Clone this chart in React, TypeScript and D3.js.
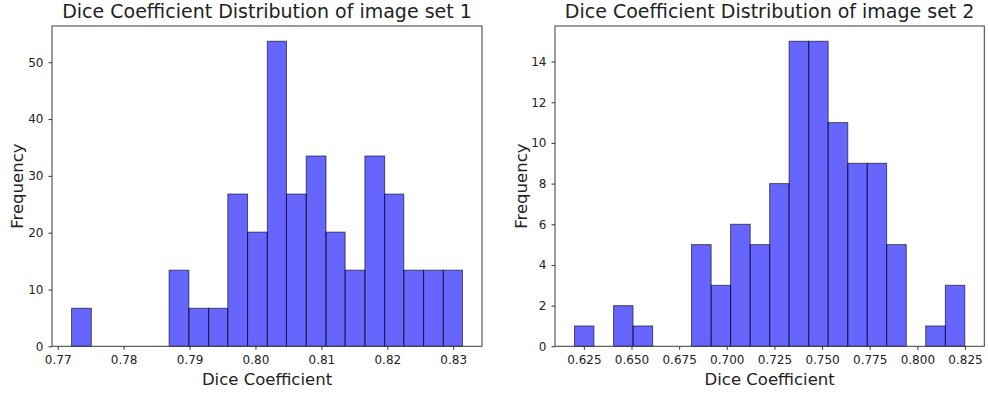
import React, { useEffect, useRef } from 'react';
import * as d3 from 'd3';

// image set 1: bin edges (21) and bar heights (20)
const set1Edges = [
  0.7721, 0.7751, 0.7780, 0.7810, 0.7840, 0.7869, 0.7899, 0.7929, 0.7958, 0.7988,
  0.8018, 0.8047, 0.8077, 0.8107, 0.8136, 0.8166, 0.8196, 0.8225, 0.8255, 0.8285, 0.8314,
];
const set1Freq = [
  6.7, 0, 0, 0, 0, 13.4, 6.7, 6.7, 26.8, 20.1,
  53.7, 26.8, 33.5, 20.1, 13.4, 33.5, 26.8, 13.4, 13.4, 13.4,
];
const set1XTicks = [0.77, 0.78, 0.79, 0.8, 0.81, 0.82, 0.83];
const set1YTicks = [0, 10, 20, 30, 40, 50];

// image set 2
const set2Edges = [
  0.6201, 0.6303, 0.6406, 0.6508, 0.6611, 0.6713, 0.6815, 0.6918, 0.7020, 0.7123,
  0.7225, 0.7327, 0.7430, 0.7532, 0.7635, 0.7737, 0.7839, 0.7942, 0.8044, 0.8147, 0.8249,
];
const set2Freq = [1, 0, 2, 1, 0, 0, 5, 3, 6, 5, 8, 15, 15, 11, 9, 9, 5, 0, 1, 3];
const set2XTicks = [0.625, 0.65, 0.675, 0.7, 0.725, 0.75, 0.775, 0.8, 0.825];
const set2YTicks = [0, 2, 4, 6, 8, 10, 12, 14];

const FONT = '"DejaVu Sans", sans-serif';

function drawPanel(svg, opts) {
  const { left, right, top, bottom, edges, freq, xTicks, yTicks, xFmt, title, ylabelX } = opts;

  // matplotlib-ish 5% margins on x, 5% headroom on y
  const lo = edges[0], hi = edges[edges.length - 1];
  const pad = (hi - lo) * 0.05;
  const x = d3.scaleLinear().domain([lo - pad, hi + pad]).range([left, right]);
  const y = d3.scaleLinear().domain([0, d3.max(freq) * 1.05]).range([bottom, top]);

  const g = svg.append('g');

  const bins = freq.map((f, i) => ({ x0: edges[i], x1: edges[i + 1], f })).filter(d => d.f > 0);

  g.selectAll('rect.bar')
    .data(bins)
    .enter().append('rect')
      .attr('class', 'bar')
      .attr('x', d => x(d.x0))
      .attr('y', d => y(d.f))
      .attr('width', d => x(d.x1) - x(d.x0))
      .attr('height', d => y(0) - y(d.f))
      .attr('fill', 'blue')
      .attr('fill-opacity', 0.6)
      .attr('stroke', 'black')
      .attr('stroke-opacity', 0.6)
      .attr('stroke-width', 1);

  // axes
  const xAxis = g.append('g')
    .attr('transform', `translate(0,${bottom})`)
    .call(d3.axisBottom(x).tickValues(xTicks).tickFormat(xFmt).tickSize(3.5).tickSizeOuter(0).tickPadding(5.5));
  const yAxis = g.append('g')
    .attr('transform', `translate(${left},0)`)
    .call(d3.axisLeft(y).tickValues(yTicks).tickFormat(d3.format('d')).tickSize(3.5).tickSizeOuter(0).tickPadding(5));

  [xAxis, yAxis].forEach(a => {
    a.select('.domain').remove();
    a.attr('font-family', FONT).attr('font-size', 12);
    a.selectAll('line').attr('stroke', '#333').attr('stroke-width', 1);
    a.selectAll('text').attr('fill', '#222');
  });

  // frame
  g.append('rect')
    .attr('x', left).attr('y', top)
    .attr('width', right - left).attr('height', bottom - top)
    .attr('fill', 'none').attr('stroke', '#3a3a3a').attr('stroke-width', 1);

  g.append('text')
    .attr('x', (left + right) / 2).attr('y', 18.3)
    .attr('text-anchor', 'middle')
    .attr('font-family', FONT).attr('font-size', 19).attr('fill', '#222')
    .text(title);

  g.append('text')
    .attr('x', (left + right) / 2).attr('y', 385)
    .attr('text-anchor', 'middle')
    .attr('font-family', FONT).attr('font-size', 16.5).attr('fill', '#222')
    .text('Dice Coefficient');

  g.append('text')
    .attr('transform', `translate(${ylabelX},${(top + bottom) / 2}) rotate(-90)`)
    .attr('text-anchor', 'middle')
    .attr('font-family', FONT).attr('font-size', 16.5).attr('fill', '#222')
    .text('Frequency');
}

export default function App() {
  const ref = useRef(null);

  useEffect(() => {
    const svg = d3.select(ref.current);
    svg.selectAll('*').remove();

    drawPanel(svg, {
      left: 52, right: 482, top: 26, bottom: 346.3,
      edges: set1Edges, freq: set1Freq,
      xTicks: set1XTicks, yTicks: set1YTicks,
      xFmt: d3.format('.2f'),
      title: 'Dice Coefficient Distribution of image set 1',
      ylabelX: 22.5,
    });
    drawPanel(svg, {
      left: 555, right: 984.3, top: 26, bottom: 346.3,
      edges: set2Edges, freq: set2Freq,
      xTicks: set2XTicks, yTicks: set2YTicks,
      xFmt: d3.format('.3f'),
      title: 'Dice Coefficient Distribution of image set 2',
      ylabelX: 526.5,
    });
  }, []);

  return (
    <svg ref={ref} width={988} height={396}
      style={{ position: 'absolute', left: 0, top: 0, background: '#fff' }} />
  );
}
